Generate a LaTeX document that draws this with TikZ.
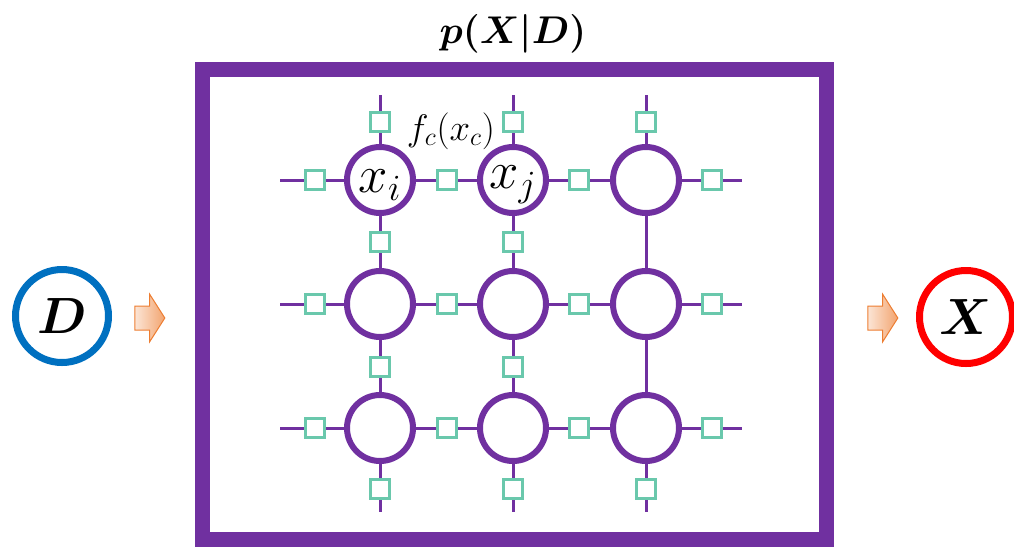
\documentclass[tikz,border=0pt]{standalone}
\usepackage{fix-cm}
\usepackage{xcolor}
\definecolor{mrfPurple}{RGB}{112,48,160}
\definecolor{factorTeal}{RGB}{106,200,172}
\definecolor{dataBlue}{RGB}{0,112,192}
\definecolor{labelRed}{RGB}{255,0,0}
\definecolor{flowOrange}{RGB}{237,125,49}
\usepackage{amsmath,amssymb,bm}
\usepackage{tikz}
\usetikzlibrary{arrows,shapes,positioning,calc}
\tikzstyle{varnode}=[circle, draw=mrfPurple, line width=1.2mm, minimum size=13.2mm, inner sep=0pt, fill=white]
\tikzstyle{factor}=[rectangle, draw=factorTeal, line width=0.7mm, minimum size=3.8mm, inner sep=0pt, fill=white]
\tikzstyle{mrfedge}=[draw=mrfPurple, line width=0.6mm]
\tikzstyle{endnode}=[circle, line width=1.4mm, minimum size=18.6mm, inner sep=0pt, font=\fontsize{29}{29}\selectfont]
\tikzstyle{flowarrow}=[single arrow, draw=flowOrange, line width=0.2mm, left color=flowOrange!20, right color=flowOrange!70,
  minimum height=6mm, minimum width=9.4mm, single arrow head extend=2.4mm, single arrow tip angle=115,
  inner xsep=0pt, inner ysep=2.3mm]

\begin{document}
\begin{tikzpicture}[x=0.2mm, y=-0.2mm]
    \useasboundingbox (0,0) rectangle (1014,550);

    % Cadre du modèle
    \node[draw=mrfPurple, line width=3mm, minimum width=124.8mm, minimum height=94mm, inner sep=0pt] (frame) at (514.5,304.5) {};
    \node[font=\fontsize{22}{22}\selectfont] (title) at (513,34) {$\bm{p(X|D)}$};

    % Entrée et sortie
    \node[endnode, draw=dataBlue] (data) at (62,316) {$\bm{D}$};
    \node[endnode, draw=labelRed] (label) at (966,317) {$\bm{X}$};
    \node[flowarrow] (inarrow) at (146,318) {};
    \node[flowarrow] (outarrow) at (879,318) {};

    % Variables
    \foreach \r/\y in {1/180, 2/304, 3/428} {
      \foreach \c/\x in {1/380, 2/513, 3/646} {
        \node[varnode] (v\r\c) at (\x,\y) {};
      }
    }
    \node[font=\fontsize{30}{30}\selectfont] (xi) at ($(v11)+(0,5)$) {$x_i$};
    \node[font=\fontsize{30}{30}\selectfont] (xj) at ($(v12)+(0,5)$) {$x_j$};
    \node[font=\fontsize{21}{21}\selectfont] (fc) at (451,131) {$f_c(x_c)$};

    % Facteurs horizontaux
    \foreach \r/\y in {1/180, 2/304, 3/428} {
      \foreach \k/\x in {0/315, 1/447, 2/579, 3/712} {
        \node[factor] (h\r\k) at (\x,\y) {};
      }
      \coordinate (hl\r) at (280,\y);
      \coordinate (hr\r) at (742,\y);
      \draw[mrfedge] (hl\r) -- (h\r0) -- (v\r1) -- (h\r1) -- (v\r2) -- (h\r2) -- (v\r3) -- (h\r3) -- (hr\r);
    }

    % Facteurs verticaux
    \foreach \c/\x in {1/380, 2/513} {
      \foreach \k/\y in {0/122, 1/242, 2/367, 3/489} {
        \node[factor] (u\c\k) at (\x,\y) {};
      }
      \coordinate (vt\c) at (\x,95);
      \coordinate (vb\c) at (\x,512);
      \draw[mrfedge] (vt\c) -- (u\c0) -- (v1\c) -- (u\c1) -- (v2\c) -- (u\c2) -- (v3\c) -- (u\c3) -- (vb\c);
    }
    \node[factor] (u30) at (646,122) {};
    \node[factor] (u33) at (646,489) {};
    \coordinate (vt3) at (646,95);
    \coordinate (vb3) at (646,512);
    \draw[mrfedge] (vt3) -- (u30) -- (v13) -- (v23) -- (v33) -- (u33) -- (vb3);
\end{tikzpicture}
\end{document}
